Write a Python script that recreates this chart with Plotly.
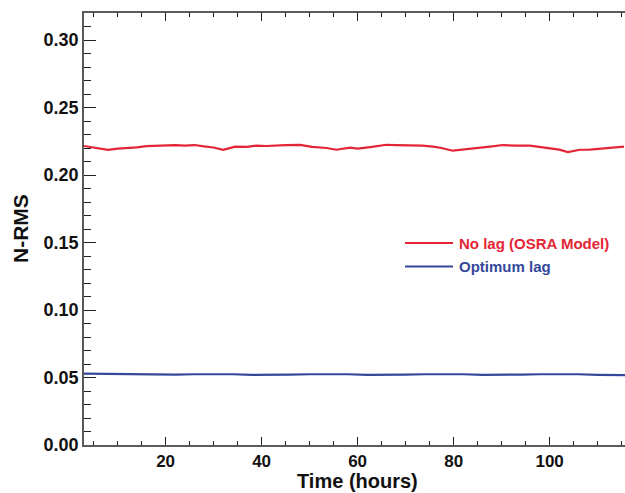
import plotly.graph_objects as go

# ---- data ----
red_x = [3, 5, 8, 10, 12, 14, 16, 18, 20, 22, 24, 26, 28, 30, 32, 34.5, 37, 39, 41, 43, 45, 48, 50.5,
         53.5, 55.6, 58.4, 60, 62.6, 66, 68, 71, 73.5, 75.7, 77.5, 79.8, 83.4, 85.5, 87.6, 90.3,
         92.8, 95.9, 98, 100, 102, 103.8, 106.3, 108.4, 110.5, 112.6, 115.5]
red_y = [0.2215, 0.2205, 0.2186, 0.2196, 0.2200, 0.2205, 0.2214, 0.2216, 0.2220, 0.2222, 0.2218,
         0.2222, 0.2212, 0.2204, 0.2186, 0.2210, 0.2208, 0.2218, 0.2215, 0.2220, 0.2222, 0.2223,
         0.2208, 0.2200, 0.2187, 0.2202, 0.2195, 0.2207, 0.2224, 0.2222, 0.2222, 0.2218, 0.2210,
         0.2200, 0.2180, 0.2193, 0.2198, 0.2210, 0.2222, 0.2217, 0.2218, 0.2208, 0.2196, 0.2188,
         0.2170, 0.2187, 0.2188, 0.2196, 0.2204, 0.2210]

blue_x = [3, 6, 10, 14, 18, 22, 26, 30, 34, 38, 42, 46, 50, 54, 58, 62, 66, 70, 74, 78, 82, 86,
          90, 94, 98, 102, 106, 110, 114, 116]
blue_y = [0.0528, 0.0527, 0.0524, 0.0520, 0.0519, 0.0521, 0.0524, 0.0526, 0.0524, 0.0520,
          0.0519, 0.0521, 0.0524, 0.0526, 0.0524, 0.0520, 0.0519, 0.0521, 0.0524, 0.0526,
          0.0524, 0.0520, 0.0519, 0.0521, 0.0524, 0.0526, 0.0524, 0.0520, 0.0518, 0.0518]

series_names = ["No lag (OSRA Model)", "Optimum lag"]
series_colors = ["#e42535", "#34489a"]
x_ticks = [20, 40, 60, 80, 100]
y_ticks = [0.00, 0.05, 0.10, 0.15, 0.20, 0.25, 0.30]
y_tick_text = ["%.2f" % v for v in y_ticks]
x_title = "Time (hours)"
y_title = "N-RMS"

FONT = "Liberation Sans, Arial, Helvetica, sans-serif"
AX = "#5a5a5a"

fig = go.Figure()
fig.add_trace(go.Scatter(x=red_x, y=red_y, mode="lines", name=series_names[0],
                         line=dict(color=series_colors[0], width=2.2), showlegend=False))
fig.add_trace(go.Scatter(x=blue_x, y=blue_y, mode="lines", name=series_names[1],
                         line=dict(color=series_colors[1], width=2.2), showlegend=False))

fig.update_layout(
    width=625, height=493,
    margin=dict(l=84, r=0, t=13, b=48),
    paper_bgcolor="white", plot_bgcolor="white",
    font=dict(family=FONT, size=18, color="#111"),
    xaxis=dict(range=[3, 115.7], tickvals=x_ticks, ticks="inside", ticklen=8, tickwidth=1.3,
               tickcolor="#222", showline=True, linecolor=AX, linewidth=1.6, mirror="ticks",
               showgrid=False, zeroline=False,
               tickfont=dict(family=FONT, size=17, color="#111", weight="bold"),
               minor=dict(dtick=5, tick0=0, ticks="inside", ticklen=4, tickwidth=1.1,
                          tickcolor="#222", showgrid=False)),
    yaxis=dict(range=[0, 0.32], tickvals=y_ticks, ticktext=y_tick_text, ticks="inside",
               ticklen=12, tickwidth=1.3, tickcolor="#222", showline=True, linecolor=AX,
               linewidth=1.6, mirror=False, showgrid=False, zeroline=False,
               tickfont=dict(family=FONT, size=18, color="#111", weight="bold"),
               minor=dict(dtick=0.01, tick0=0, ticks="inside", ticklen=7, tickwidth=1.1,
                          tickcolor="#222", showgrid=False)),
    yaxis2=dict(range=[0, 0.32], overlaying="y", side="right", anchor="x", tickvals=y_ticks,
                ticks="inside", ticklen=5, tickwidth=1.3, tickcolor="#444",
                showticklabels=False, showline=False, showgrid=False, zeroline=False,
                minor=dict(dtick=0.01, tick0=0, ticks="inside", ticklen=3, tickwidth=1,
                           tickcolor="#999", showgrid=False)),
)

# axis titles
fig.add_annotation(text="<b>%s</b>" % x_title, xref="paper", yref="paper",
                   x=(357 - 84) / 541, y=0, xanchor="center", yanchor="top", yshift=-23.5,
                   borderpad=0, showarrow=False, font=dict(family=FONT, size=20, color="#111"))
fig.add_annotation(text="<b>%s</b>" % y_title, xref="paper", yref="paper",
                   x=0, y=0.5, xanchor="center", yanchor="middle", xshift=-64, textangle=-90,
                   showarrow=False, font=dict(family=FONT, size=21, color="#111"))

# manual legend
leg_y = [(445 - 243) / 432, (445 - 266.5) / 432]
for name, col, ly in zip(series_names, series_colors, leg_y):
    fig.add_shape(type="line", xref="paper", yref="paper",
                  x0=(405 - 84) / 541, x1=(453 - 84) / 541, y0=ly, y1=ly,
                  line=dict(color=col, width=2.2))
    fig.add_annotation(text="<b>%s</b>" % name, xref="paper", yref="paper",
                       x=(457 - 84) / 541, y=ly, xanchor="left", yanchor="middle",
                       showarrow=False, font=dict(family=FONT, size=15, color=col))

fig.write_html("out.html")
